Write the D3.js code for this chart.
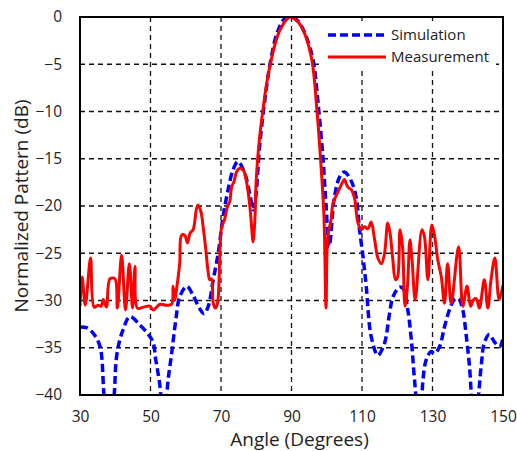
<!DOCTYPE html>
<html>
<head>
<meta charset="utf-8">
<script src="https://cdn.jsdelivr.net/npm/d3@7"></script>
<style>
  body { margin: 0; background: #fff; }
  text { font-family: "Open Sans", sans-serif; fill: #222; }
</style>
</head>
<body>
<div id="plot"></div>
<script>
// Normalized pattern chart
var w = 517;
var h = 451;
var margin = { top: 17, right: 14, bottom: 56, left: 80 };

// Data
var xTicks = [30, 50, 70, 90, 110, 130, 150];
var yTicks = [0, -5, -10, -15, -20, -25, -30, -35, -40];
var seriesNames = ['Simulation', 'Measurement'];

var simAngle = [30, 32, 34, 35.7, 36.8, 38.3, 39.7, 40.5, 42.2, 44.2, 47, 49, 50.7, 51.5, 52.7, 53.6, 55, 56, 57.2, 58.3, 60.3, 62, 64, 65.2, 66.4, 67.8, 69.2, 70.6, 72, 73.4, 74.8, 76.7, 78.2, 79.1, 79.8, 81, 82.5, 84, 86, 88, 90, 92, 94, 96.1, 97.5, 98.9, 99.8, 100.7, 102.2, 103.7, 105, 107, 108.4, 109.3, 110.3, 111.2, 112.6, 114.5, 116.4, 117.8, 118.8, 120.6, 121.6, 123, 124, 124.9, 126.4, 127.3, 128.2, 129.6, 130.6, 132, 133.4, 134.8, 136.2, 137.4, 138.6, 139.5, 140.5, 141.9, 143.8, 144.7, 146.1, 147.6, 149, 150];
var simDb = [-32.8, -32.9, -33.6, -34.9, -40, -46, -40, -35.6, -33.1, -31.7, -32.6, -33.4, -34.4, -36.3, -39.1, -44, -38.4, -35.6, -32, -29.6, -28.5, -29.4, -30.9, -31.4, -30.6, -27.8, -25, -21.1, -18.3, -16.2, -15.3, -16.5, -18.8, -20.4, -19.2, -13.5, -8.6, -4.8, -1.6, -0.2, 0, -0.5, -1.9, -4.5, -9, -14.8, -20, -24.3, -19, -16.9, -16.4, -17.4, -19.2, -22.5, -25.4, -28.5, -33.8, -35.8, -34.5, -31.4, -29.6, -28.6, -28.7, -31, -34.2, -38.4, -44, -38.4, -36.3, -35.4, -35.6, -34.9, -32.8, -31, -29.9, -29.8, -31, -33.5, -37, -44, -37, -34.5, -33.6, -34.4, -34.9, -34];

var measAngle = [30, 30.6, 31.5, 33, 34, 35.1, 36, 36.6, 37.5, 38.5, 39.9, 40.6, 41.8, 42.9, 44, 44.9, 45.6, 46.3, 48, 49.8, 50.8, 52.7, 54.5, 56, 56.4, 56.9, 57.4, 58.3, 58.8, 59.7, 60.5, 61.2, 62.1, 63, 63.5, 64.3, 65, 65.6, 66.3, 66.8, 67.3, 67.8, 68.4, 69, 69.7, 70.1, 71.1, 71.8, 72.5, 73, 73.7, 74.4, 75.3, 76.3, 76.7, 77.5, 78.2, 78.6, 79.1, 79.6, 80, 80.7, 81.9, 83.8, 86.7, 89.5, 90.5, 92.8, 95.6, 97.2, 98.2, 99.2, 99.8, 100.3, 101.2, 101.8, 103.2, 104.6, 105, 106, 107, 107.9, 108.8, 109.8, 110.7, 111.7, 112.6, 113.6, 114.5, 115.5, 116.4, 117.3, 118, 118.7, 119.5, 120.1, 120.8, 121.5, 122.2, 122.9, 123.6, 124.2, 125.1, 127, 127.7, 128.7, 129.8, 130.6, 131.5, 132.5, 133.4, 134.3, 135.3, 137.4, 138.6, 139.8, 140.8, 141.7, 142.4, 143.3, 144.7, 145.7, 146.6, 147.7, 148.9, 150];
var measDb = [-30.6, -27.5, -30.5, -25.5, -30.7, -30.5, -30.6, -29.9, -30.7, -27.7, -27.7, -30.8, -25.2, -31, -26.1, -30.8, -26.4, -30.8, -30.7, -30.6, -31, -30.4, -30.5, -30.4, -28.5, -30, -28.8, -26, -23.1, -23.1, -23.9, -22.9, -22.5, -20.4, -19.9, -20.6, -22.4, -24.3, -26.8, -27.8, -27.7, -30.3, -30.8, -30.3, -24.7, -22.4, -21.3, -20.1, -19.5, -18, -17.4, -16.4, -16, -16.2, -16.5, -18, -20.1, -21.8, -23.8, -21.5, -17.2, -13.7, -9.8, -5.3, -1.4, 0, -0.1, -1, -4.2, -9.8, -14.8, -21, -30.8, -23.2, -21.5, -19.7, -18.5, -17.4, -17.2, -18, -18.3, -19.2, -21.7, -22.5, -22.2, -22.4, -21.7, -23.6, -25.5, -26.1, -25, -21.8, -23, -25.5, -27.8, -27.5, -22.5, -24.3, -30.6, -28.5, -23.6, -25.7, -29.9, -22.5, -23.2, -27.8, -22, -23.2, -25.7, -27.5, -30.3, -26.1, -30.3, -24.3, -30.6, -28.5, -30.6, -29.9, -29.8, -30.8, -27.8, -30.8, -27.8, -25.5, -29.9, -28.4];

var pw = w - margin.left - margin.right;
var ph = h - margin.top - margin.bottom;

var svg = d3.select('#plot').append('svg')
  .attr('width', w)
  .attr('height', h);

var x = d3.scaleLinear().domain([30, 150]).range([0, pw]);
var y = d3.scaleLinear().domain([-40, 0]).range([ph, 0]);

var g = svg.append('g')
  .attr('transform', 'translate(' + margin.left + ',' + margin.top + ')');

svg.append('defs').append('clipPath').attr('id', 'clip')
  .append('rect').attr('width', pw).attr('height', ph);

// grid
g.selectAll('.vgrid')
  .data(xTicks.slice(1, -1))
  .enter().append('line')
  .attr('x1', function (d) { return x(d); })
  .attr('x2', function (d) { return x(d); })
  .attr('y1', 0).attr('y2', ph)
  .attr('stroke', '#111').attr('stroke-width', 1.3)
  .attr('stroke-dasharray', '5,4');

g.selectAll('.hgrid')
  .data(yTicks.slice(1, -1))
  .enter().append('line')
  .attr('x1', 0).attr('x2', pw)
  .attr('y1', function (d) { return y(d); })
  .attr('y2', function (d) { return y(d); })
  .attr('stroke', '#111').attr('stroke-width', 1.3)
  .attr('stroke-dasharray', '5,4');

// axes with tick labels only
var xAxis = g.append('g')
  .attr('transform', 'translate(0,' + ph + ')')
  .call(d3.axisBottom(x).tickValues(xTicks).tickSize(0).tickPadding(16));
var yAxis = g.append('g')
  .call(d3.axisLeft(y).tickValues(yTicks).tickSize(0).tickPadding(18));
[xAxis, yAxis].forEach(function (a) {
  a.select('.domain').remove();
  a.selectAll('text').attr('font-size', '15.5px').attr('font-family', '"Open Sans", sans-serif').attr('fill', '#1a1a1a');
});

// curves
var line = d3.line()
  .x(function (d) { return x(d[0]); })
  .y(function (d) { return y(d[1]); })
  .curve(d3.curveCatmullRom.alpha(0.5));

var plot = g.append('g').attr('clip-path', 'url(#clip)');

plot.append('path')
  .datum(simAngle.map(function (a, i) { return [a, simDb[i]]; }))
  .attr('d', line)
  .attr('fill', 'none')
  .attr('stroke', '#0000ff')
  .attr('stroke-width', 3.5)
  .attr('stroke-dasharray', '8,4');

plot.append('path')
  .datum(measAngle.map(function (a, i) { return [a, measDb[i]]; }))
  .attr('d', line)
  .attr('fill', 'none')
  .attr('stroke', '#ff0000')
  .attr('stroke-width', 3)
  .attr('stroke-linejoin', 'round');

// frame
g.append('rect')
  .attr('width', pw).attr('height', ph)
  .attr('fill', 'none')
  .attr('stroke', '#000').attr('stroke-width', 2);

// legend
var leg = g.append('g');
leg.append('rect')
  .attr('x', 243).attr('y', 4)
  .attr('width', 173).attr('height', 48)
  .attr('fill', '#fff');
var legStyles = [
  { stroke: '#0000ff', dash: '8,4', width: 3.5 },
  { stroke: '#ff0000', dash: null, width: 3 }
];
seriesNames.forEach(function (name, i) {
  var ly = 18 + i * 22;
  leg.append('line')
    .attr('x1', 248).attr('x2', 306)
    .attr('y1', ly).attr('y2', ly)
    .attr('stroke', legStyles[i].stroke)
    .attr('stroke-width', legStyles[i].width)
    .attr('stroke-dasharray', legStyles[i].dash);
  leg.append('text')
    .attr('x', 311).attr('y', ly + 5)
    .attr('font-size', '15px')
    .text(name);
});

// axis titles
svg.append('text')
  .attr('x', margin.left + pw / 2 + 8)
  .attr('y', 446)
  .attr('text-anchor', 'middle')
  .attr('font-size', '19px')
  .text('Angle (Degrees)');

svg.append('text')
  .attr('transform', 'translate(28,' + (margin.top + ph / 2) + ') rotate(-90)')
  .attr('text-anchor', 'middle')
  .attr('font-size', '19px')
  .text('Normalized Pattern (dB)');
</script>
</body>
</html>
